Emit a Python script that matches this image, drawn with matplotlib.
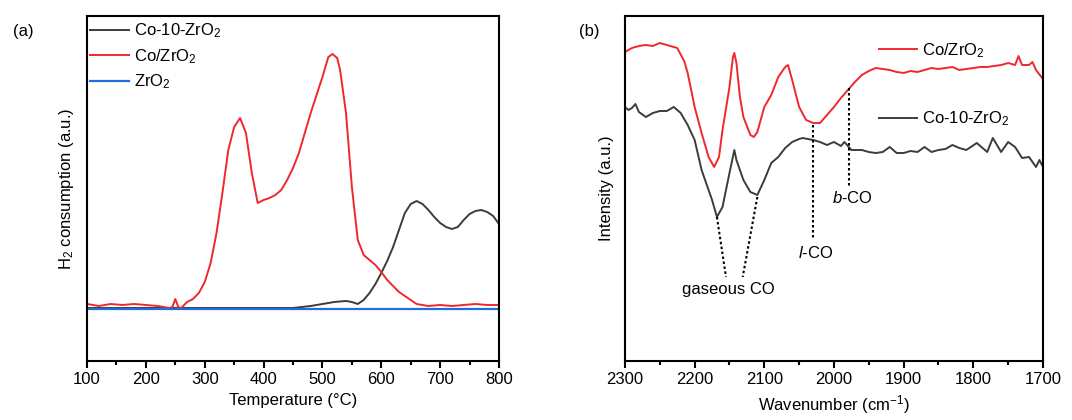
import matplotlib
matplotlib.use("Agg")
import matplotlib.pyplot as plt
import numpy as np

plt.rcParams['font.family'] = ['Liberation Sans', 'DejaVu Sans']
plt.rcParams['mathtext.fontset'] = 'custom'
plt.rcParams['mathtext.rm'] = 'Liberation Sans'
plt.rcParams['mathtext.it'] = 'Liberation Sans:italic'

# ---------------- Panel (a): H2-TPR ----------------
temp_red = [100, 120, 140, 160, 180, 200, 220, 240, 245, 250, 255, 260, 270, 280, 290, 300,
            310, 320, 330, 340, 350, 360, 370, 380, 390, 400, 410, 420, 430, 440, 450, 460,
            470, 480, 490, 500, 510, 517, 525, 530, 540, 550, 560, 570, 580, 590, 600,
            610, 620, 630, 640, 650, 660, 670, 680, 700, 720, 740, 760, 780, 800]
co_zro2 = [4, 2, 4, 3, 4, 3, 2, 0, 1, 9, 1, 0, 6, 9, 15, 26,
           45, 75, 115, 158, 181, 190, 175, 135, 105, 108, 110, 113, 118, 128, 140, 155,
           175, 195, 213, 231, 251, 254, 250, 238, 195, 121, 68, 53, 48, 43, 36,
           28, 22, 16, 12, 8, 4, 3, 2, 3, 2, 3, 4, 3, 3]

temp_blk = [100, 200, 300, 400, 450, 480, 500, 520, 540, 550, 560, 570, 580, 590, 600, 610,
            620, 630, 640, 650, 660, 670, 680, 690, 700, 710, 720, 730, 740, 750, 760,
            770, 780, 790, 800]
co10_zro2 = [0, 0, 0, 0, 0, 2, 4, 6, 7, 6, 4, 8, 15, 24, 35, 47,
             61, 78, 95, 104, 107, 104, 98, 91, 85, 81, 79, 81, 88, 94, 97,
             98, 96, 92, 84]

temp_blue = [100, 800]
zro2 = [-1, -1]

legend_a = ['Co-10-ZrO$_2$', 'Co/ZrO$_2$', 'ZrO$_2$']

# ---------------- Panel (b): CO-DRIFTS ----------------
wn_red = [2300, 2290, 2280, 2270, 2260, 2250, 2240, 2230, 2225, 2215, 2210, 2200, 2190, 2180,
          2172, 2165, 2160, 2150, 2145, 2143, 2140, 2135, 2130, 2120, 2115, 2110, 2100,
          2090, 2080, 2070, 2066, 2060, 2050, 2040, 2030, 2020, 2010, 2000, 1990, 1980,
          1970, 1960, 1950, 1940, 1930, 1920, 1910, 1900, 1890, 1880, 1870, 1860, 1850,
          1840, 1830, 1820, 1810, 1800, 1790, 1780, 1770, 1760, 1750, 1740, 1735, 1730,
          1720, 1715, 1710, 1700]
co_zro2_ir = [309, 313, 315, 316, 315, 318, 316, 314, 313, 300, 288, 254, 228, 204,
              194, 204, 231, 274, 304, 308, 298, 264, 244, 226, 224, 229, 254,
              266, 284, 294, 296, 281, 254, 241, 238, 238, 246, 254, 263, 271,
              279, 286, 290, 293, 292, 291, 289, 288, 290, 289, 291, 293, 292,
              293, 294, 291, 292, 293, 294, 294, 295, 296, 298, 296, 305, 296,
              296, 299, 291, 282]

wn_blk = [2300, 2295, 2290, 2285, 2280, 2270, 2260, 2250, 2240, 2230, 2220, 2210, 2200,
          2190, 2180, 2175, 2168, 2160, 2150, 2143, 2140, 2130, 2120, 2110, 2100, 2090,
          2080, 2070, 2060, 2050, 2045, 2030, 2020, 2010, 2000, 1990, 1985, 1975, 1960,
          1950, 1940, 1930, 1920, 1910, 1900, 1890, 1880, 1870, 1860, 1850, 1840, 1830,
          1820, 1810, 1795, 1780, 1772, 1760, 1750, 1740, 1730, 1720, 1710, 1705, 1700]
co10_zro2_ir = [254, 251, 253, 257, 249, 244, 248, 250, 250, 254, 248, 236, 221,
                191, 171, 161, 144, 154, 188, 211, 201, 181, 169, 166, 181, 198,
                204, 213, 219, 222, 223, 221, 219, 216, 219, 215, 219, 211, 211,
                209, 208, 209, 214, 208, 208, 210, 209, 214, 209, 211, 212, 216,
                213, 211, 218, 209, 223, 209, 219, 214, 203, 204, 194, 201, 194]

legend_b = ['Co/ZrO$_2$', 'Co-10-ZrO$_2$']

RED = '#f0282d'
BLK = '#3c3c3c'
BLUE = '#1f6fd8'

fig = plt.figure(figsize=(10.72, 4.2), dpi=100)
ax1 = fig.add_axes([0.0812, 0.1405, 0.3843, 0.8214])
ax2 = fig.add_axes([0.583, 0.1405, 0.3899, 0.8214])

FS = 12
LEG = dict(frameon=False, fontsize=FS, handlelength=2.3, handletextpad=0.3,
           borderpad=0.1, borderaxespad=0.1)

# Panel a
l1, = ax1.plot(temp_blk, co10_zro2, color=BLK, lw=1.4)
l2, = ax1.plot(temp_red, co_zro2, color=RED, lw=1.4)
l3, = ax1.plot(temp_blue, zro2, color=BLUE, lw=1.6)
ax1.set_xlim(100, 800)
ax1.set_ylim(-53, 292)
ax1.set_xticks(np.arange(100, 801, 100))
ax1.set_xticks(np.arange(150, 800, 100), minor=True)
ax1.set_yticks([])
ax1.set_xlabel('Temperature (°C)', fontsize=FS, labelpad=4)
ax1.set_ylabel('H$_2$ consumption (a.u.)', fontsize=FS, labelpad=8)
ax1.legend([l1, l2, l3], legend_a, loc='upper left', labelspacing=0.41,
           bbox_to_anchor=(0.0, 0.994), **LEG)
ax1.text(-0.18, 0.955, '(a)', transform=ax1.transAxes, fontsize=FS, va='center')

# Panel b
m1, = ax2.plot(wn_red, co_zro2_ir, color=RED, lw=1.4)
m2, = ax2.plot(wn_blk, co10_zro2_ir, color=BLK, lw=1.4)
ax2.set_xlim(2300, 1700)
ax2.set_ylim(0, 345)
ax2.set_xticks(np.arange(2300, 1699, -100))
ax2.set_xticks(np.arange(2250, 1700, -100), minor=True)
ax2.set_yticks([])
ax2.set_xlabel('Wavenumber (cm$^{-1}$)', fontsize=FS, labelpad=4)
ax2.set_ylabel('Intensity (a.u.)', fontsize=FS, labelpad=8)
ax2.text(-0.11, 0.955, '(b)', transform=ax2.transAxes, fontsize=FS, va='center')

leg_b = ax2.legend([m1], [legend_b[0]], loc='upper left',
                   bbox_to_anchor=(0.6, 0.937), **LEG)
ax2.add_artist(leg_b)
ax2.legend([m2], [legend_b[1]], loc='upper left',
           bbox_to_anchor=(0.6, 0.738), **LEG)

dot = dict(color='black', lw=1.5, ls=(0, (1.2, 1.2)))
ax2.plot([2168, 2155], [144, 84], **dot)
ax2.plot([2110, 2131], [164, 84], **dot)
ax2.text(2151, 71, 'gaseous CO', fontsize=FS, ha='center', va='center')
ax2.plot([2030, 2030], [236, 123], **dot)
ax2.text(2027, 108, '$\\it{l}$-CO', fontsize=FS, ha='center', va='center')
ax2.plot([1978, 1978], [273, 174], **dot)
ax2.text(1974, 163, '$\\it{b}$-CO', fontsize=FS, ha='center', va='center')

for ax in (ax1, ax2):
    for s in ax.spines.values():
        s.set_linewidth(1.5)
    ax.tick_params(axis='x', which='major', direction='out', length=5, width=1.5,
                   labelsize=FS, pad=3)
    ax.tick_params(axis='x', which='minor', direction='out', length=3, width=1.5)

fig.savefig('out.png', dpi=100)
